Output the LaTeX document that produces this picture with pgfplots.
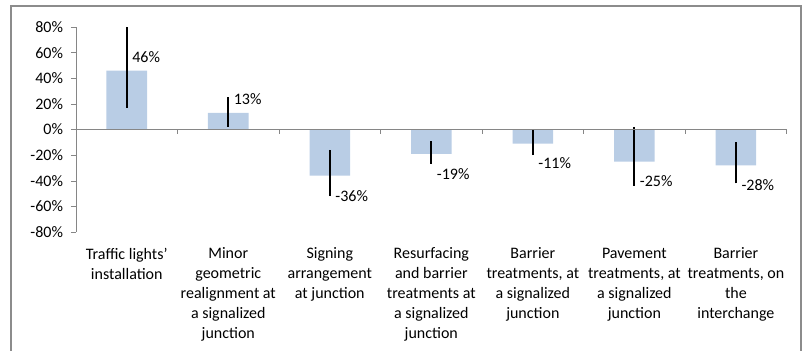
\documentclass[border=0pt]{standalone}
\usepackage{pgfplots}
\pgfplotsset{compat=1.18}
\usepackage{fontspec}
\setmainfont{Carlito}
\definecolor{barblue}{HTML}{B9CDE5}
\definecolor{framegray}{HTML}{8C8C8C}
\definecolor{axisgray}{HTML}{868686}
\newcommand{\catlabel}[1]{\parbox{100pt}{\centering\fontsize{12}{15}\selectfont #1}}
\begin{document}
\begin{tikzpicture}
\useasboundingbox (0,0) rectangle (602.25pt,262.5pt);
\draw[framegray, line width=1.1pt] (8.25pt,258pt) rectangle (600.75pt,-20pt);
\begin{axis}[
  at={(57pt,88.5pt)}, anchor=south west,
  scale only axis, width=533pt, height=153.75pt,
  xmin=-0.5, xmax=6.5, ymin=-80, ymax=80,
  /pgf/number format/assume math mode=true,
  ytick={-80,-60,...,80},
  yticklabel={\pgfmathprintnumber{\tick}\%},
  yticklabel style={font=\fontsize{12}{14}\selectfont, xshift=-2.5pt},
  axis y line=left, axis x line=bottom,
  axis line style={-, draw=axisgray},
  x axis line style={draw=none},
  xtick={0,...,6},
  xticklabels={
    {\catlabel{Traffic lights'\\installation}},
    {\catlabel{Minor\\geometric\\realignment at\\a signalized\\junction}},
    {\catlabel{Signing\\arrangement\\at junction}},
    {\catlabel{Resurfacing\\and barrier\\treatments at\\a signalized\\junction}},
    {\catlabel{Barrier\\treatments, at\\a signalized\\junction}},
    {\catlabel{Pavement\\treatments, at\\a signalized\\junction}},
    {\catlabel{Barrier\\treatments, on\\the\\interchange}}},
  xticklabel style={anchor=north, yshift=-8pt, inner sep=0pt},
  major x tick style={draw=none},
  y tick style={draw=axisgray},
  tick align=outside, major tick length=3.75pt,
  ybar, bar width=0.4,
  clip=false,
  visualization depends on={rawy \as \rawy},
  nodes near coords={\pgfmathprintnumber{\pgfplotspointmeta}\%},
  every node near coord/.append style={
    anchor=west, inner sep=0pt, font=\fontsize{12}{14}\selectfont, text=black,
    xshift=4pt, yshift={ifthenelse(\rawy<0,-15,10)}},
]
\addplot[fill=barblue, draw=none,
  error bars/.cd, y dir=both, y explicit, error mark=none,
  error bar style={black, line width=1.4pt}]
  coordinates {
  (0,46)  += (0,34) -= (0,29)
  (1,13)  += (0,12) -= (0,11)
  (2,-36) += (0,20) -= (0,16)
  (3,-19) += (0,10) -= (0,8)
  (4,-11) += (0,11) -= (0,9)
  (5,-25) += (0,27) -= (0,19)
  (6,-28) += (0,18) -= (0,14)
};
% zero line and category separators
\draw[axisgray] (axis cs:-0.5,0) -- (axis cs:6.5,0);
\draw[axisgray]
  (axis cs:0.5,0) -- ++(0pt,-3.75pt)
  (axis cs:1.5,0) -- ++(0pt,-3.75pt)
  (axis cs:2.5,0) -- ++(0pt,-3.75pt)
  (axis cs:3.5,0) -- ++(0pt,-3.75pt)
  (axis cs:4.5,0) -- ++(0pt,-3.75pt)
  (axis cs:5.5,0) -- ++(0pt,-3.75pt)
  (axis cs:6.5,0) -- ++(0pt,-3.75pt);
\end{axis}
\end{tikzpicture}
\end{document}
